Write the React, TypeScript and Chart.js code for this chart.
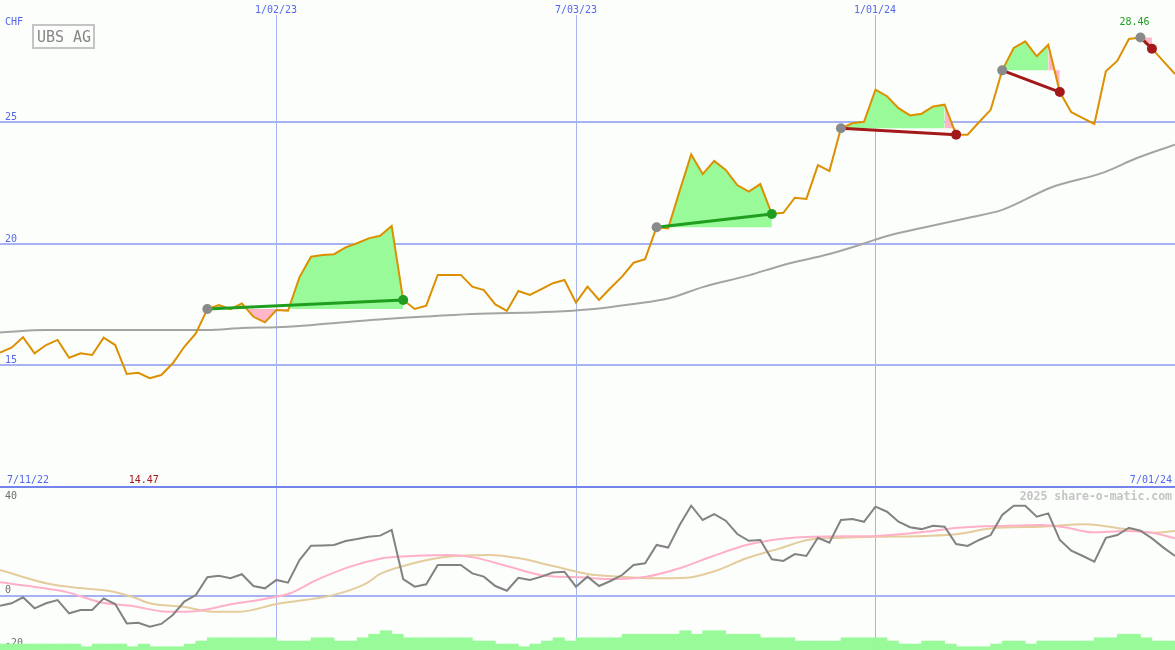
import React, { useEffect, useRef } from 'react';
import { Chart, registerables } from 'chart.js';

Chart.register(...registerables);

// ---------- data ----------
const companyName = 'UBS AG';
const currencyLabel = 'CHF';
const startDateLabel = '7/11/22';
const endDateLabel = '7/01/24';
const gridWeeks = [24, 50, 76];
const gridDateLabels = ['1/02/23', '7/03/23', '1/01/24'];
const priceTicks = [25, 20, 15];
const oscTicks = [40, 0, -20];
const copyrightLabel = '2025 share-o-matic.com';

// weekly closing prices, week index 0..102
const price = [
  15.52, 15.72, 16.15, 15.49, 15.83, 16.04, 15.31, 15.49, 15.42, 16.13,
  15.83, 14.64, 14.69, 14.47, 14.60, 15.08, 15.76, 16.31, 17.31, 17.47,
  17.30, 17.54, 16.99, 16.76, 17.27, 17.24, 18.62, 19.46, 19.53, 19.56,
  19.84, 20.01, 20.21, 20.32, 20.72, 17.68, 17.31, 17.45, 18.71, 18.71,
  18.71, 18.23, 18.09, 17.50, 17.23, 18.05, 17.89, 18.13, 18.37, 18.50,
  17.57, 18.23, 17.68, 18.17, 18.64, 19.21, 19.36, 20.67, 20.62, 22.16,
  23.66, 22.85, 23.39, 23.02, 22.40, 22.13, 22.44, 21.21, 21.26, 21.88,
  21.83, 23.22, 22.98, 24.73, 24.94, 25.00, 26.32, 26.05, 25.56, 25.26,
  25.33, 25.63, 25.70, 24.47, 24.47, 24.99, 25.49, 27.11, 28.03, 28.30,
  27.69, 28.16, 26.22, 25.39, 25.15, 24.91, 27.07, 27.51, 28.40, 28.46,
  28.00, 27.48, 26.96,
];

// long moving average (read at selected weeks)
const maWeeks = [0, 4, 10, 14, 18, 21, 24, 26, 28, 32, 37, 41, 48, 51, 55, 58, 61, 65, 68, 72, 75, 77, 80, 84, 87, 91.3, 95.7, 98.7, 102];
const maValues = [16.35, 16.45, 16.45, 16.45, 16.45, 16.53, 16.56, 16.61, 16.69, 16.85, 17.0, 17.1, 17.2, 17.29, 17.52, 17.74, 18.21, 18.69, 19.12, 19.57, 20.0, 20.31, 20.64, 21.05, 21.38, 22.31, 22.9, 23.51, 24.06];

// trades: entry / exit week indices
const tradeEntryWeeks = [18, 57, 73, 87, 99];
const tradeExitWeeks = [35, 67, 83, 92, 100];

// oscillator panel
const momentum = [
  -3.7, -2.8, -0.6, -4.65, -2.8, -1.6, -6.5, -5.3, -5.3, -1.0,
  -3.1, -10.2, -10.0, -11.4, -10.4, -7.1, -2.2, 0.2, 6.8, 7.35,
  6.4, 7.9, 3.55, 2.7, 5.8, 4.8, 13.1, 18.4, 18.5, 18.65,
  20.1, 20.85, 21.7, 22.1, 24.2, 6.1, 3.3, 4.2, 11.3, 11.3,
  11.3, 8.2, 7.0, 3.55, 1.8, 6.6, 5.8, 7.0, 8.5, 8.8,
  3.3, 7.0, 3.55, 5.4, 7.6, 11.3, 11.9, 18.65, 17.7, 26.0,
  33.1, 27.85, 30.0, 27.6, 22.7, 20.2, 20.5, 13.4, 12.8, 15.3,
  14.6, 21.3, 19.5, 27.85, 28.2, 27.2, 32.75, 30.9, 27.2, 25.2,
  24.5, 25.75, 25.4, 19.0, 18.3, 20.5, 22.3, 29.7, 33.1, 33.1,
  29.1, 30.3, 20.5, 16.55, 14.6, 12.5, 21.3, 22.3, 25.0, 23.9,
  21.1, 17.7, 14.6,
];

const pinkWeeks = [0, 2.9, 5.8, 8.7, 11.6, 14.5, 16.2, 20.2, 24, 25.2, 27.5, 30.4, 33, 34.5, 38.8, 41.1, 44, 47.5, 50.3, 53.2, 56.1, 59, 61.9, 64.8, 67.7, 70.7, 76, 80.3, 83.2, 87.5, 90.4, 92.4, 94.8, 97.7, 100, 102];
const pinkValues = [4.9, 3.3, 1.3, -2.4, -3.9, -5.9, -5.9, -3.1, -0.4, 0.9, 5.8, 10.7, 13.6, 14.3, 15.0, 14.1, 10.9, 7.2, 6.75, 6.1, 7.0, 10.1, 14.6, 18.65, 20.85, 21.7, 22.0, 23.5, 25.0, 25.75, 26.0, 25.2, 23.3, 23.8, 23.2, 21.1];

const tanWeeks = [0, 4.3, 7.2, 9.5, 11.6, 13, 15.9, 18.5, 20.8, 24, 28.9, 31.8, 33, 35.9, 38.8, 42.5, 45.1, 48, 51, 53.8, 56.7, 59.6, 61.9, 64.8, 67.7, 70.1, 73.1, 76, 80.3, 83.2, 86.1, 90.4, 94.2, 97.7, 100, 102];
const tanValues = [9.45, 4.3, 2.7, 1.7, -0.6, -2.8, -4.1, -5.9, -5.9, -3.1, 0.2, 4.55, 8.0, 11.9, 14.3, 15.0, 13.75, 10.9, 8.0, 7.0, 6.4, 6.6, 8.8, 13.75, 17.4, 20.5, 21.3, 21.7, 22.0, 22.7, 24.8, 25.4, 26.3, 24.5, 23.2, 23.8];

// weekly volume-like histogram (height above panel floor), weeks 0..101
const volume = [
  2.2, 2.2, 2.2, 2.2, 2.2, 2.2, 2.2, 1.2, 2.2, 2.2,
  2.2, 1.2, 2.2, 1.2, 1.2, 1.2, 2.2, 3.3, 4.5, 4.5,
  4.5, 4.5, 4.5, 4.5, 3.3, 3.3, 3.3, 4.5, 4.5, 3.3,
  3.3, 4.5, 5.8, 7.1, 5.8, 4.5, 4.5, 4.5, 4.5, 4.5,
  4.5, 3.3, 3.3, 2.2, 2.2, 1.2, 2.2, 3.3, 4.5, 3.3,
  4.5, 4.5, 4.5, 4.5, 5.8, 5.8, 5.8, 5.8, 5.8, 7.1,
  5.8, 7.1, 7.1, 5.8, 5.8, 5.8, 4.5, 4.5, 4.5, 3.3,
  3.3, 3.3, 3.3, 4.5, 4.5, 4.5, 4.5, 3.3, 2.2, 2.2,
  3.3, 3.3, 2.2, 1.2, 1.2, 1.2, 2.2, 3.3, 3.3, 2.2,
  3.3, 3.3, 3.3, 3.3, 3.3, 4.5, 4.5, 5.8, 5.8, 4.5,
  3.3, 3.3,
];

// ---------- style ----------
const WEEK_MAX = 102;
const PRICE_MIN = 10;
const PRICE_MAX = 30;
const OSC_MIN = -20;
const OSC_MAX = 40;
const BG = '#fcfefc';
const GRID = '#a6b2f2';
const SEP = '#7484ec';
const BLUE_TEXT = '#5566ee';
const GREY_TEXT = '#6c6c6c';
const PRICE_COLOR = '#dc9000';
const MA_COLOR = '#a4a4a4';
const FILL_GREEN = '#98fa98';
const FILL_PINK = '#ffb6c6';
const TRADE_GREEN = '#209e20';
const TRADE_RED = '#a31818';
const ENTRY_DOT = '#8a8a8a';
const MONO = '"DejaVu Sans Mono", "Liberation Mono", monospace';

const W = 1175;
const H_TOP = 487;
const H_BOT = 163;

function buildFillRuns(entry: number, exit: number) {
  const level = price[entry];
  const runs: { color: string; start: number; end: number }[] = [];
  for (let k = entry; k < exit; k++) {
    const color = price[k + 1] >= level ? FILL_GREEN : FILL_PINK;
    const last = runs[runs.length - 1];
    if (last && last.color === color) last.end = k + 1;
    else runs.push({ color, start: k, end: k + 1 });
  }
  return runs.map((r) => {
    const pts: { x: number; y: number }[] = [];
    for (let k = r.start; k <= r.end; k++) pts.push({ x: k, y: price[k] });
    return {
      type: 'line' as const,
      data: pts,
      borderWidth: 0,
      borderColor: 'rgba(0,0,0,0)',
      pointRadius: 0,
      fill: { target: { value: level }, above: r.color, below: r.color },
      order: 30,
    };
  });
}

const upperDecor = {
  id: 'upperDecor',
  beforeDraw(chart: any) {
    const { ctx } = chart;
    const w = chart.width;
    const h = chart.height;
    const xs = chart.scales.x;
    const ys = chart.scales.y;
    ctx.save();
    ctx.fillStyle = BG;
    ctx.fillRect(0, 0, w, h);
    ctx.fillStyle = GRID;
    priceTicks.forEach((v) => {
      const py = Math.round(ys.getPixelForValue(v));
      ctx.fillRect(0, py - 1, w, 2);
    });
    gridWeeks.forEach((wk) => {
      const px = Math.round(xs.getPixelForValue(wk));
      ctx.fillRect(px, 15, 1, h - 15);
    });
    ctx.fillStyle = SEP;
    ctx.fillRect(0, h - 1, w, 1);
    // labels
    ctx.font = `10px ${MONO}`;
    ctx.fillStyle = BLUE_TEXT;
    ctx.textBaseline = 'alphabetic';
    ctx.textAlign = 'left';
    ctx.fillText(currencyLabel, 5, 25);
    priceTicks.forEach((v) => {
      const py = Math.round(ys.getPixelForValue(v));
      ctx.fillText(String(v), 5, py - 2);
    });
    ctx.textAlign = 'center';
    gridWeeks.forEach((wk, i) => {
      const px = Math.round(xs.getPixelForValue(wk));
      ctx.fillText(gridDateLabels[i], px, 13);
    });
    ctx.textAlign = 'left';
    ctx.fillText(startDateLabel, 7, 483);
    ctx.textAlign = 'right';
    ctx.fillText(endDateLabel, w - 3, 483);
    ctx.restore();
  },
  afterDraw(chart: any) {
    const { ctx } = chart;
    const xs = chart.scales.x;
    let minK = 0;
    let maxK = 0;
    price.forEach((p, k) => {
      if (p < price[minK]) minK = k;
      if (p > price[maxK]) maxK = k;
    });
    ctx.save();
    ctx.font = `10px ${MONO}`;
    ctx.textAlign = 'center';
    ctx.textBaseline = 'alphabetic';
    ctx.fillStyle = TRADE_RED;
    ctx.fillText(price[minK].toFixed(2), xs.getPixelForValue(minK) - 6, 483);
    ctx.fillStyle = TRADE_GREEN;
    ctx.fillText(price[maxK].toFixed(2), xs.getPixelForValue(maxK) - 6, 25);
    // company box
    ctx.strokeStyle = '#c4c4c4';
    ctx.lineWidth = 2;
    ctx.strokeRect(33, 25, 61, 23);
    ctx.fillStyle = '#868686';
    ctx.font = `15px ${MONO}`;
    ctx.fillText(companyName, 64, 42);
    ctx.restore();
  },
};

const lowerDecor = {
  id: 'lowerDecor',
  beforeDraw(chart: any) {
    const { ctx } = chart;
    const w = chart.width;
    const h = chart.height;
    const xs = chart.scales.x;
    const ys = chart.scales.y;
    ctx.save();
    ctx.fillStyle = BG;
    ctx.fillRect(0, 0, w, h);
    ctx.fillStyle = GRID;
    const zy = Math.round(ys.getPixelForValue(0));
    ctx.fillRect(0, zy - 1, w, 2);
    gridWeeks.forEach((wk) => {
      const px = Math.round(xs.getPixelForValue(wk));
      ctx.fillRect(px, 0, 1, h);
    });
    ctx.fillStyle = SEP;
    ctx.fillRect(0, 0, w, 1);
    ctx.font = `10px ${MONO}`;
    ctx.fillStyle = GREY_TEXT;
    ctx.textAlign = 'left';
    ctx.textBaseline = 'alphabetic';
    ctx.fillText(String(oscTicks[0]), 5, 12);
    ctx.fillText(String(oscTicks[1]), 5, zy - 3);
    ctx.fillText(String(oscTicks[2]), 5, h - 4);
    ctx.font = `bold 11.5px ${MONO}`;
    ctx.fillStyle = '#c4c4c4';
    ctx.textAlign = 'right';
    ctx.fillText(copyrightLabel, w - 3, 13);
    ctx.restore();
  },
};

export default function App() {
  const upperRef = useRef<HTMLCanvasElement>(null);
  const lowerRef = useRef<HTMLCanvasElement>(null);

  useEffect(() => {
    if (!upperRef.current || !lowerRef.current) return;

    const fillSets: any[] = [];
    tradeEntryWeeks.forEach((e, i) => fillSets.push(...buildFillRuns(e, tradeExitWeeks[i])));

    const tradeSets = tradeEntryWeeks.map((e, i) => {
      const x = tradeExitWeeks[i];
      const col = price[x] >= price[e] ? TRADE_GREEN : TRADE_RED;
      return {
        type: 'line' as const,
        data: [
          { x: e, y: price[e] },
          { x, y: price[x] },
        ],
        borderColor: col,
        borderWidth: 3,
        pointRadius: 5,
        pointBorderWidth: 0,
        pointBackgroundColor: [ENTRY_DOT, col],
        pointBorderColor: [ENTRY_DOT, col],
        fill: false,
        order: 1,
      };
    });

    const common = {
      responsive: false,
      animation: false as const,
      devicePixelRatio: 1,
      events: [] as any[],
      layout: { padding: 0, autoPadding: false },
      plugins: { legend: { display: false }, tooltip: { enabled: false } },
      elements: { point: { radius: 0 }, line: { tension: 0 } },
    };

    const upper = new Chart(upperRef.current, {
      type: 'line',
      data: {
        datasets: [
          ...fillSets,
          {
            type: 'line',
            data: maWeeks.map((k, i) => ({ x: k, y: maValues[i] })),
            borderColor: MA_COLOR,
            borderWidth: 2,
            pointRadius: 0,
            cubicInterpolationMode: 'monotone',
            fill: false,
            order: 10,
          },
          {
            type: 'line',
            data: price.map((p, k) => ({ x: k, y: p })),
            borderColor: PRICE_COLOR,
            borderWidth: 2,
            pointRadius: 0,
            fill: false,
            order: 5,
          },
          ...tradeSets,
        ],
      },
      options: {
        ...common,
        scales: {
          x: { type: 'linear', min: 0, max: WEEK_MAX, display: false, offset: false },
          y: { type: 'linear', min: PRICE_MIN, max: PRICE_MAX, display: false },
        },
      } as any,
      plugins: [upperDecor],
    });

    const lower = new Chart(lowerRef.current, {
      type: 'line',
      data: {
        datasets: [
          {
            type: 'line',
            data: tanWeeks.map((k, i) => ({ x: k, y: tanValues[i] })),
            borderColor: '#e4cc9c',
            borderWidth: 2,
            pointRadius: 0,
            cubicInterpolationMode: 'monotone',
            fill: false,
            order: 6,
          },
          {
            type: 'line',
            data: pinkWeeks.map((k, i) => ({ x: k, y: pinkValues[i] })),
            borderColor: '#ffb0c8',
            borderWidth: 2,
            pointRadius: 0,
            cubicInterpolationMode: 'monotone',
            fill: false,
            order: 5,
          },
          {
            type: 'line',
            data: momentum.map((v, k) => ({ x: k, y: v })),
            borderColor: '#828282',
            borderWidth: 2,
            pointRadius: 0,
            fill: false,
            order: 3,
          },
          {
            type: 'bar',
            data: volume.map((v, k) => ({ x: k + 0.5, y: [OSC_MIN, OSC_MIN + v] })),
            backgroundColor: FILL_GREEN,
            borderWidth: 0,
            barPercentage: 1,
            categoryPercentage: 1,
            order: 1,
          },
        ],
      } as any,
      options: {
        ...common,
        scales: {
          x: { type: 'linear', min: 0, max: WEEK_MAX, display: false, offset: false },
          y: { type: 'linear', min: OSC_MIN, max: OSC_MAX, display: false },
        },
      } as any,
      plugins: [lowerDecor],
    });

    return () => {
      upper.destroy();
      lower.destroy();
    };
  }, []);

  return (
    <div style={{ position: 'absolute', left: 0, top: 0, width: W, height: H_TOP + H_BOT, background: BG }}>
      <canvas ref={upperRef} width={W} height={H_TOP} style={{ display: 'block', width: W, height: H_TOP }} />
      <canvas ref={lowerRef} width={W} height={H_BOT} style={{ display: 'block', width: W, height: H_BOT }} />
    </div>
  );
}
